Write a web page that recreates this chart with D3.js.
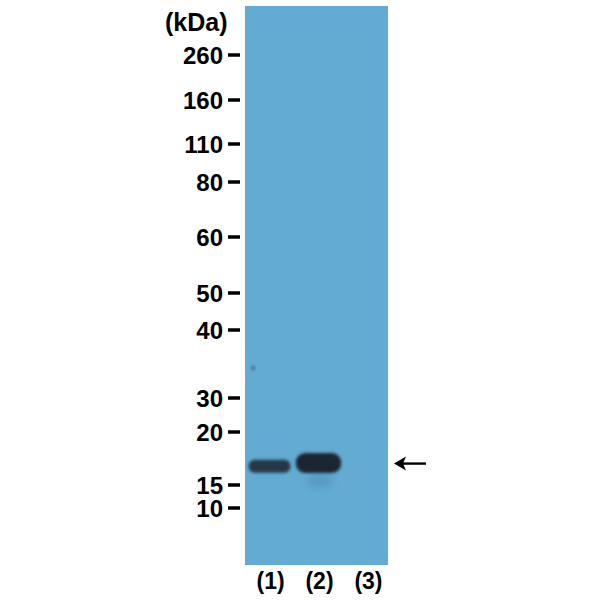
<!DOCTYPE html>
<html><head><meta charset="utf-8">
<script src="https://cdn.jsdelivr.net/npm/d3@7"></script>
<style>body{margin:0;background:#fff}svg{display:block}</style>
</head><body>
<svg id="c" width="600" height="600"></svg>
<script>
const markerKDa = [260, 160, 110, 80, 60, 50, 40, 30, 20, 15, 10];
const markerMigration = [49, 94, 138, 176, 231, 287, 324, 392, 426, 479, 502];
const lanes = ["(1)", "(2)", "(3)"];
const bandKDa = [16.6, 16.9, null];
const bandIntensity = [0.85, 1.0, 0];
const bandWidthScale = [0.97, 1.05, 0];
const bandThickness = [13, 20, 0];

const svg = d3.select("#c");
const mem = {x0: 245, x1: 388, y0: 6, y1: 565};

const yMig = d3.scaleLinear().domain([0, mem.y1 - mem.y0]).range([mem.y0, mem.y1]);
const yKDa = d3.scaleLog().domain(markerKDa).range(markerMigration.map(yMig));
const xLane = d3.scaleBand().domain(lanes).range([mem.x0 + 3, mem.x1 + 1]).paddingInner(0.12).paddingOuter(0);

const FONT = "Liberation Sans, Arial, sans-serif";
const defs = svg.append("defs");
const blur = defs.append("filter").attr("id", "blur").attr("x", "-20%").attr("y", "-50%").attr("width", "140%").attr("height", "200%");
blur.append("feGaussianBlur").attr("stdDeviation", 1.6);
const blur2 = defs.append("filter").attr("id", "blur2").attr("x", "-50%").attr("y", "-50%").attr("width", "200%").attr("height", "200%");
blur2.append("feGaussianBlur").attr("stdDeviation", 4);

// membrane
svg.append("rect").attr("x", mem.x0).attr("y", mem.y0)
  .attr("width", mem.x1 - mem.x0).attr("height", mem.y1 - mem.y0)
  .attr("fill", "#63abd3");

// faint smear under lane 2
svg.append("ellipse")
  .attr("cx", xLane("(2)") + xLane.bandwidth() / 2 + 1)
  .attr("cy", yKDa(bandKDa[1]) + 18)
  .attr("rx", xLane.bandwidth() * 0.3).attr("ry", 6)
  .attr("fill", "#3d6f95").attr("opacity", 0.35).attr("filter", "url(#blur2)");

// bands
lanes.forEach((l, i) => {
  if (!bandKDa[i]) return;
  const w = xLane.bandwidth() * bandWidthScale[i];
  const cx = xLane(l) + xLane.bandwidth() / 2;
  svg.append("rect")
    .attr("x", cx - w / 2).attr("y", yKDa(bandKDa[i]) - bandThickness[i] / 2)
    .attr("width", w).attr("height", bandThickness[i])
    .attr("rx", bandThickness[i] / 2.2)
    .attr("fill", "#1c2530").attr("opacity", bandIntensity[i] * 0.95 + 0.05)
    .attr("filter", "url(#blur)");
});

// small speck
svg.append("circle").attr("cx", mem.x0 + 8).attr("cy", yMig(362)).attr("r", 1.6)
  .attr("fill", "#26394d").attr("filter", "url(#blur)");

// marker axis
const axis = svg.append("g");
markerKDa.forEach((k) => {
  const y = yKDa(k);
  axis.append("line").attr("x1", 228).attr("x2", 240).attr("y1", y).attr("y2", y)
    .attr("stroke", "#000").attr("stroke-width", 3.5);
  axis.append("text").attr("x", 223).attr("y", y).attr("dy", "0.36em")
    .attr("text-anchor", "end")
    .attr("font-family", FONT).attr("font-weight", "bold")
    .attr("font-size", 24).attr("fill", "#000").text(k);
});
svg.append("text").attr("x", 165).attr("y", 22).attr("dy", "0.36em")
  .attr("font-family", FONT).attr("font-weight", "bold")
  .attr("font-size", 25).attr("fill", "#000").text("(kDa)");

// lane labels
lanes.forEach(l => {
  svg.append("text").attr("x", xLane(l) + xLane.bandwidth() / 2 + 1).attr("y", 581).attr("dy", "0.36em")
    .attr("text-anchor", "middle")
    .attr("font-family", FONT).attr("font-weight", "bold")
    .attr("font-size", 23).attr("fill", "#000").text(l);
});

// arrow
const ay = yKDa(16.85);
svg.append("line").attr("x1", 402).attr("x2", 426).attr("y1", ay).attr("y2", ay)
  .attr("stroke", "#000").attr("stroke-width", 2.4);
svg.append("path").attr("d", `M394,${ay} L406,${ay - 7} L403,${ay} L406,${ay + 7} Z`).attr("fill", "#000");
</script>
</body></html>
